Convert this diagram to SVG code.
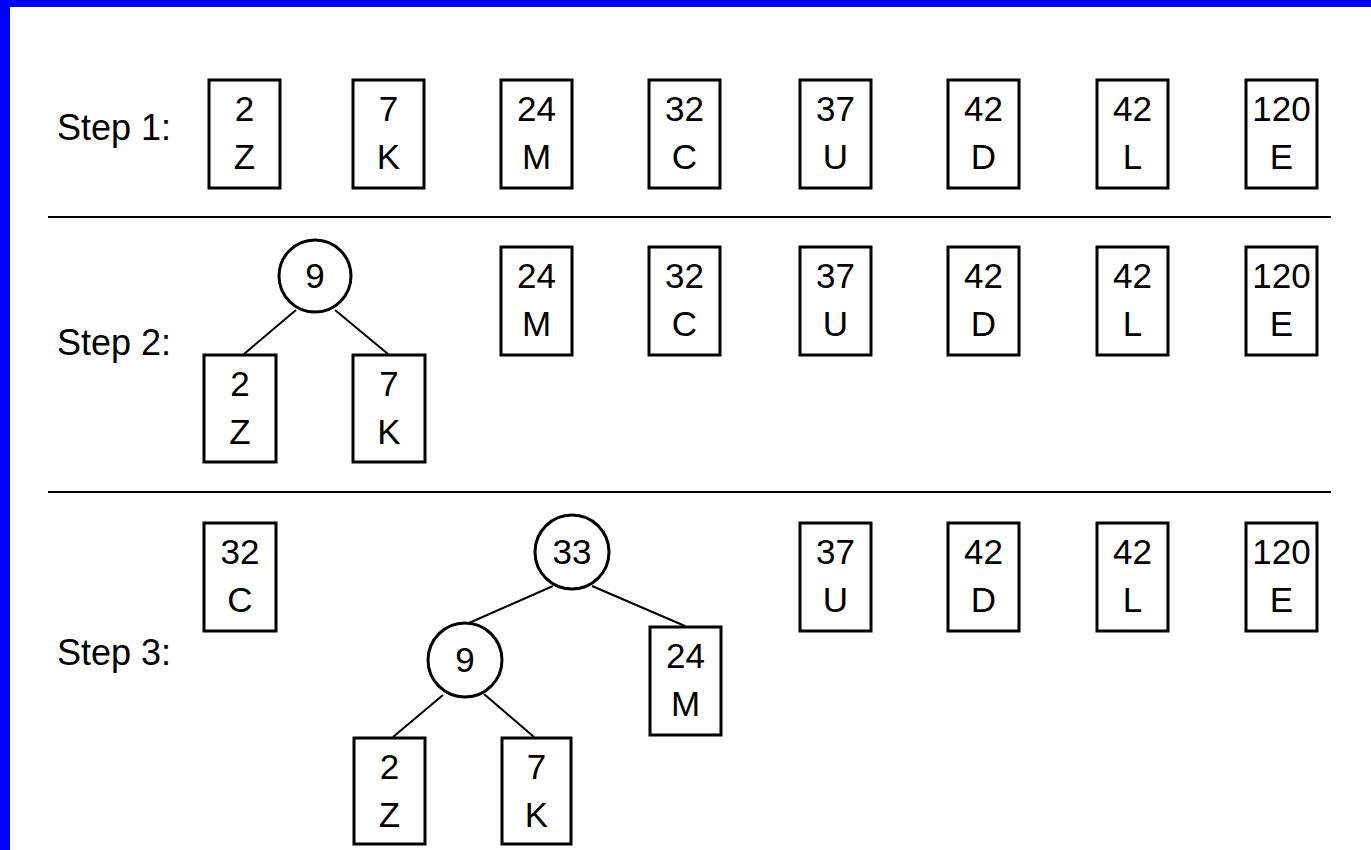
<svg xmlns="http://www.w3.org/2000/svg" width="1371" height="850" viewBox="0 0 1371 850">
<style>
.bx{fill:#fff;stroke:#000;stroke-width:3}
.cn{fill:#fff;stroke:#000;stroke-width:3}
.t{font-family:"Liberation Sans",Arial,sans-serif;font-size:35px;fill:#000;text-anchor:middle}
.lb{font-family:"Liberation Sans",Arial,sans-serif;font-size:36px;fill:#000}
.ln{stroke:#000;stroke-width:2;fill:none}
.sep{stroke:#000;stroke-width:2}
</style>
<rect x="0" y="0" width="1371" height="850" fill="#fff"/>
<rect x="0" y="0" width="1371" height="7" fill="#0000ff"/>
<rect x="0" y="0" width="10" height="850" fill="#0000ff"/>
<g id="labels">
<text class="lb" x="57" y="140">Step 1:</text>
<text class="lb" x="57" y="355">Step 2:</text>
<text class="lb" x="57" y="665">Step 3:</text>
</g>
<g id="separators">
<line class="sep" x1="48" y1="217" x2="1331" y2="217"/>
<line class="sep" x1="48" y1="492" x2="1331" y2="492"/>
</g>
<g id="connectors">
<line class="ln" x1="296" y1="310" x2="244" y2="354"/>
<line class="ln" x1="335" y1="310" x2="388" y2="354"/>
<line class="ln" x1="553" y1="586" x2="469" y2="623"/>
<line class="ln" x1="592" y1="586" x2="685" y2="626"/>
<line class="ln" x1="443" y1="695" x2="393" y2="737"/>
<line class="ln" x1="484" y1="694" x2="534" y2="737"/>
</g>
<!-- Step 1 -->
<g id="s1-2Z"><rect class="bx" x="209" y="80" width="71" height="108"/><text class="t" x="244.5" y="121">2</text><text class="t" x="244.5" y="169">Z</text></g>
<g id="s1-7K"><rect class="bx" x="353" y="80" width="71" height="108"/><text class="t" x="388.5" y="121">7</text><text class="t" x="388.5" y="169">K</text></g>
<g id="s1-24M"><rect class="bx" x="501" y="80" width="71" height="108"/><text class="t" x="536.5" y="121">24</text><text class="t" x="536.5" y="169">M</text></g>
<g id="s1-32C"><rect class="bx" x="649" y="80" width="71" height="108"/><text class="t" x="684.5" y="121">32</text><text class="t" x="684.5" y="169">C</text></g>
<g id="s1-37U"><rect class="bx" x="800" y="80" width="71" height="108"/><text class="t" x="835.5" y="121">37</text><text class="t" x="835.5" y="169">U</text></g>
<g id="s1-42D"><rect class="bx" x="948" y="80" width="71" height="108"/><text class="t" x="983.5" y="121">42</text><text class="t" x="983.5" y="169">D</text></g>
<g id="s1-42L"><rect class="bx" x="1097" y="80" width="71" height="108"/><text class="t" x="1132.5" y="121">42</text><text class="t" x="1132.5" y="169">L</text></g>
<g id="s1-120E"><rect class="bx" x="1246" y="80" width="71" height="108"/><text class="t" x="1281.5" y="121">120</text><text class="t" x="1281.5" y="169">E</text></g>
<!-- Step 2 -->
<g id="s2-9"><circle class="cn" cx="315" cy="276" r="36"/><text class="t" x="315" y="288">9</text></g>
<g id="s2-2Z"><rect class="bx" x="204" y="355" width="72" height="107"/><text class="t" x="240" y="396">2</text><text class="t" x="240" y="444">Z</text></g>
<g id="s2-7K"><rect class="bx" x="353" y="355" width="72" height="107"/><text class="t" x="389" y="396">7</text><text class="t" x="389" y="444">K</text></g>
<g id="s2-24M"><rect class="bx" x="501" y="247" width="71" height="108"/><text class="t" x="536.5" y="288">24</text><text class="t" x="536.5" y="336">M</text></g>
<g id="s2-32C"><rect class="bx" x="649" y="247" width="71" height="108"/><text class="t" x="684.5" y="288">32</text><text class="t" x="684.5" y="336">C</text></g>
<g id="s2-37U"><rect class="bx" x="800" y="247" width="71" height="108"/><text class="t" x="835.5" y="288">37</text><text class="t" x="835.5" y="336">U</text></g>
<g id="s2-42D"><rect class="bx" x="948" y="247" width="71" height="108"/><text class="t" x="983.5" y="288">42</text><text class="t" x="983.5" y="336">D</text></g>
<g id="s2-42L"><rect class="bx" x="1097" y="247" width="71" height="108"/><text class="t" x="1132.5" y="288">42</text><text class="t" x="1132.5" y="336">L</text></g>
<g id="s2-120E"><rect class="bx" x="1246" y="247" width="71" height="108"/><text class="t" x="1281.5" y="288">120</text><text class="t" x="1281.5" y="336">E</text></g>
<!-- Step 3 -->
<g id="s3-32C"><rect class="bx" x="204" y="523" width="72" height="108"/><text class="t" x="240" y="564">32</text><text class="t" x="240" y="612">C</text></g>
<g id="s3-33"><circle class="cn" cx="572" cy="552" r="37"/><text class="t" x="572" y="564">33</text></g>
<g id="s3-9"><circle class="cn" cx="465" cy="660" r="37"/><text class="t" x="465" y="672">9</text></g>
<g id="s3-24M"><rect class="bx" x="650" y="627" width="71" height="108"/><text class="t" x="685.5" y="668">24</text><text class="t" x="685.5" y="716">M</text></g>
<g id="s3-2Z"><rect class="bx" x="354" y="738" width="71" height="106"/><text class="t" x="389.5" y="779">2</text><text class="t" x="389.5" y="827">Z</text></g>
<g id="s3-7K"><rect class="bx" x="502" y="738" width="69" height="106"/><text class="t" x="536.5" y="779">7</text><text class="t" x="536.5" y="827">K</text></g>
<g id="s3-37U"><rect class="bx" x="800" y="523" width="71" height="108"/><text class="t" x="835.5" y="564">37</text><text class="t" x="835.5" y="612">U</text></g>
<g id="s3-42D"><rect class="bx" x="948" y="523" width="71" height="108"/><text class="t" x="983.5" y="564">42</text><text class="t" x="983.5" y="612">D</text></g>
<g id="s3-42L"><rect class="bx" x="1097" y="523" width="71" height="108"/><text class="t" x="1132.5" y="564">42</text><text class="t" x="1132.5" y="612">L</text></g>
<g id="s3-120E"><rect class="bx" x="1246" y="523" width="71" height="108"/><text class="t" x="1281.5" y="564">120</text><text class="t" x="1281.5" y="612">E</text></g>
</svg>
